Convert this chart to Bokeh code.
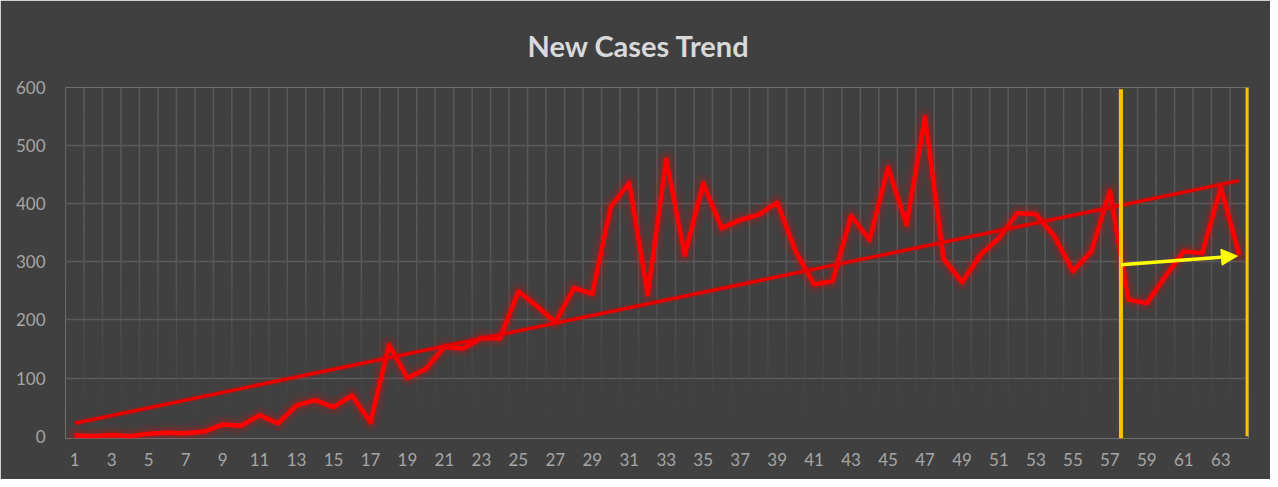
import numpy as np
from bokeh.plotting import figure
from bokeh.models import Range1d, FixedTicker, Title, Arrow, NormalHead
from bokeh.embed import file_html
from bokeh.resources import INLINE

# ---- data ----
days = list(range(1, 65))
new_cases = [1, 0, 2, 0, 4, 6, 5, 8, 20, 18,
             36, 22, 53, 62, 50, 70, 24, 157, 100, 116,
             154, 151, 169, 168, 249, 224, 196, 255, 245, 395,
             436, 244, 476, 312, 435, 358, 372, 381, 402, 318,
             261, 267, 379, 338, 462, 364, 549, 305, 265, 312,
             341, 384, 382, 344, 284, 318, 422, 235, 229, 275,
             318, 315, 428, 312]
x_tick_labels = [str(d) for d in days[::2]]
y_ticks = [0, 100, 200, 300, 400, 500, 600]
title_text = "New Cases Trend"

# markers drawn on the chart (vertical bracket lines and arrow)
bracket_x = [57.6, 64.45]
bracket_y0 = [-4, 0]
bracket_y1 = [597, 600]
arrow_start = (57.6, 295)
arrow_end = (63.9, 310)

BG = "#404040"
GRID = "#5a5a5a"
TICK = "#a6a6a6"

W, H = 1270, 479
p = figure(width=W, height=H, output_backend="svg", toolbar_location=None,
           x_range=Range1d(0.5, 64.5), y_range=Range1d(-4, 600),
           min_border_left=65, min_border_right=22,
           min_border_top=85, min_border_bottom=41)
p.background_fill_color = BG
p.border_fill_color = BG
p.outline_line_color = None

# title
p.add_layout(Title(text=title_text, align="left", text_color="#d9d9d9",
                   text_font="Lato", text_font_style="bold",
                   text_font_size="29px", text_line_height=0.9,
                   standoff=50, offset=462), "above")

# axes
for ax in (p.xaxis[0], p.yaxis[0]):
    ax.axis_line_color = None
    ax.major_tick_line_color = None
    ax.minor_tick_line_color = None
    ax.major_label_text_color = TICK
    ax.major_label_text_font = "Lato"
    ax.major_label_text_font_size = "17px"
p.xaxis.ticker = FixedTicker(ticks=days[::2])
p.xaxis.major_label_overrides = {d: s for d, s in zip(days[::2], x_tick_labels)}
p.xaxis.major_label_standoff = 8
p.yaxis.ticker = FixedTicker(ticks=y_ticks)
p.yaxis.major_label_standoff = 14

# grids: horizontal uniform, vertical fading toward the bottom
p.ygrid.ticker = FixedTicker(ticks=y_ticks[1:])
p.ygrid.grid_line_color = GRID
p.ygrid.grid_line_width = 1.5
p.xgrid.grid_line_color = None
grid_x = [d - 0.5 for d in days] + [days[-1] + 0.5]
band = 25
for y0 in range(0, 600, band):
    a = min(1.0, (y0 + band / 2) / 320.0) ** 1.4
    p.segment(x0=grid_x, x1=grid_x, y0=[y0] * len(grid_x), y1=[y0 + band] * len(grid_x),
              line_color=GRID, line_alpha=a, line_width=1.5)

# glow layers under the series
for w, a in [(20, 0.05), (14, 0.08), (9, 0.14)]:
    p.line(days, new_cases, line_color="#ff0000", line_width=w, line_alpha=a,
           line_join="round", line_cap="round")
p.line(days, new_cases, line_color="#ff0000", line_width=4.5, line_join="round")

# linear trendline (least squares of the series)
k, b = np.polyfit(days, new_cases, 1)
tx = [days[0], days[-1]]
ty = [k * tx[0] + b, k * tx[1] + b]
p.line(tx, ty, line_color="#e00000", line_width=8, line_alpha=0.12)
p.line(tx, ty, line_color="#e60000", line_width=3.5)

# bracket lines
p.segment(x0=bracket_x, x1=bracket_x, y0=bracket_y0, y1=bracket_y1,
          line_color="#ffc000", line_width=4)

# arrow
p.add_layout(Arrow(end=NormalHead(size=16, fill_color="#ffff00", line_color="#ffff00"),
                   x_start=arrow_start[0], y_start=arrow_start[1],
                   x_end=arrow_end[0], y_end=arrow_end[1],
                   line_color="#ffff00", line_width=3.5))

open("out.html", "w").write(file_html(p, INLINE))
